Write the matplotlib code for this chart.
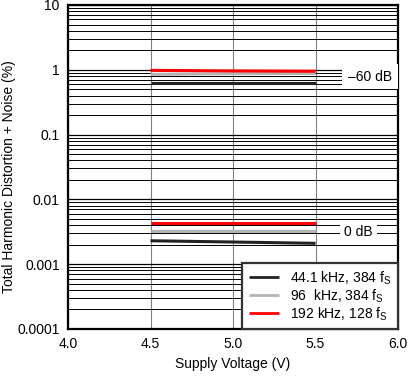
import numpy as np
import matplotlib
matplotlib.use("Agg")
import matplotlib.pyplot as plt
from matplotlib.ticker import LogLocator, FixedLocator

plt.rcParams['font.family'] = ['Liberation Sans', 'DejaVu Sans']

# THD+N vs supply voltage, two signal levels
voltage = [4.5, 5.0, 5.5]
thd_441_m60 = [0.63, 0.63, 0.63]
thd_96_m60 = [0.85, 0.87, 0.88]
thd_192_m60 = [0.98, 0.96, 0.95]
thd_441_0 = [0.0023, 0.0022, 0.0021]
thd_96_0 = [0.0032, 0.0032, 0.0032]
thd_192_0 = [0.0043, 0.0043, 0.0043]

labels = ["44.1 kHz, 384 f$_\\mathregular{S}$", "96  kHz, 384 f$_\\mathregular{S}$",
          "192 kHz, 128 f$_\\mathregular{S}$"]
colors = ["#222222", "#b4b4b4", "#ff0000"]

x_ticks = [4.0, 4.5, 5.0, 5.5, 6.0]
y_ticks = [0.0001, 0.001, 0.01, 0.1, 1, 10]
y_labels = ["0.0001", "0.001", "0.01", "0.1", "1", "10"]

fig = plt.figure(figsize=(4.08, 3.76), dpi=100)
ax = fig.add_axes([68 / 408, 47 / 376, 330 / 408, 324 / 376])
ax.set_yscale("log")
ax.set_xlim(4.0, 6.0)
ax.set_ylim(1e-4, 10)

ax.yaxis.set_major_locator(FixedLocator(y_ticks))
ax.set_yticklabels(y_labels)
ax.yaxis.set_minor_locator(LogLocator(base=10, subs=np.arange(2, 10), numticks=20))
ax.xaxis.set_major_locator(FixedLocator(x_ticks))
ax.set_xticklabels([f"{v:.1f}" for v in x_ticks])

ax.grid(True, which="major", axis="y", color="black", lw=0.9)
ax.grid(True, which="minor", axis="y", color="black", lw=0.7)
ax.grid(True, which="major", axis="x", color="#808080", lw=0.8)
ax.tick_params(which="both", length=0, labelsize=10, pad=6)

series = [(thd_441_m60, thd_441_0), (thd_96_m60, thd_96_0), (thd_192_m60, thd_192_0)]
for (m60, z), c, lab in zip(series, colors, labels):
    ax.plot(voltage, m60, color=c, lw=2.2, label=lab, solid_capstyle="butt")
    ax.plot(voltage, z, color=c, lw=2.2, solid_capstyle="butt")

ax.text(5.83, 0.78, "\u201360 dB", ha="center", va="center", fontsize=10,
        bbox=dict(facecolor="white", edgecolor="none", pad=4))
ax.text(5.76, 0.0031, "0 dB", ha="center", va="center", fontsize=10,
        bbox=dict(facecolor="white", edgecolor="none", pad=3))

for s in ax.spines.values():
    s.set_linewidth(1.6)

leg = ax.legend(loc="lower right", fontsize=10, frameon=True, fancybox=False,
                borderaxespad=0, handlelength=2.2, labelspacing=0.05,
                borderpad=0.45, handletextpad=0.8)
leg.get_frame().set_edgecolor("#333333")
leg.get_frame().set_linewidth(1.6)
leg.get_frame().set_alpha(1)
for h in leg.get_lines():
    h.set_linewidth(2)

ax.set_xlabel("Supply Voltage (V)", fontsize=10, labelpad=4)
ax.set_ylabel("Total Harmonic Distortion + Noise (%)", fontsize=10)
ax.yaxis.set_label_coords(-0.158, 0.47)

fig.savefig("out.png", dpi=100)
